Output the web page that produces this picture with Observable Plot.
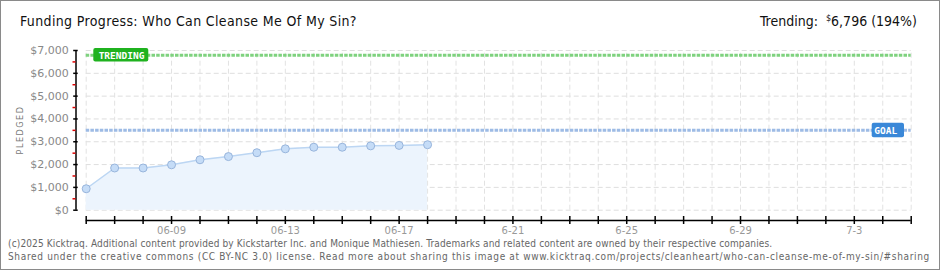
<!DOCTYPE html>
<html>
<head>
<meta charset="utf-8">
<script src="https://cdn.jsdelivr.net/npm/d3@7"></script>
<script src="https://cdn.jsdelivr.net/npm/@observablehq/plot@0.6"></script>
<style>
  body { margin: 0; background: #fff; }
  #wrap { position: relative; width: 940px; height: 270px; overflow: hidden; background:#fff; }
  #border { position: absolute; left: 0; top: 0; width: 940px; height: 270px; box-sizing: border-box; border: 1px solid #8a8a8a; pointer-events: none; }
  #chart { position: absolute; left: 0; top: 0; }
  .t { position: absolute; white-space: nowrap; font-family: "DejaVu Sans Condensed", "DejaVu Sans", sans-serif; font-stretch: condensed; }
  #title { left: 20px; top: 13px; font-size: 14px; color: #111; letter-spacing: 0.36px; }
  #trend { right: 23px; top: 13px; font-size: 14px; color: #111; }
  #trend sup { font-size: 9px; vertical-align: 5px; }
  #ylab { left: 20px; top: 130px; font-size: 9px; color: #777; letter-spacing: 1.5px; transform: translate(-50%, -50%) rotate(-90deg); font-family: "DejaVu Sans", sans-serif; }
  #foot1 { left: 8px; top: 238px; font-size: 10px; color: #666; letter-spacing: 0.14px; }
  #foot2 { left: 8px; top: 251px; font-size: 10px; color: #666; letter-spacing: 0.66px; }
</style>
</head>
<body>
<div id="wrap">
  <div id="chart"></div>
  <div class="t" id="title">Funding Progress: Who Can Cleanse Me Of My Sin?</div>
  <div class="t" id="trend">Trending: &nbsp;<sup>$</sup>6,796 (194%)</div>
  <div class="t" id="ylab">PLEDGED</div>
  <div class="t" id="foot1">(c)2025 Kicktraq. Additional content provided by Kickstarter Inc. and Monique Mathiesen. Trademarks and related content are owned by their respective companies.</div>
  <div class="t" id="foot2">Shared under the creative commons (CC BY-NC 3.0) license. Read more about sharing this image at www.kicktraq.com/projects/cleanheart/who-can-cleanse-me-of-my-sin/#sharing</div>
  <div id="border"></div>
</div>
<script>
// ---- data ----
const dates = ["2025-06-06","2025-06-07","2025-06-08","2025-06-09","2025-06-10","2025-06-11","2025-06-12","2025-06-13","2025-06-14","2025-06-15","2025-06-16","2025-06-17","2025-06-18"];
const pledged = [940, 1850, 1850, 1990, 2210, 2350, 2520, 2690, 2760, 2760, 2820, 2840, 2870];
const goal = 3500;
const trending = 6796;
const axisStart = "2025-06-06";
const axisEnd = "2025-07-05";
const tickDates = ["2025-06-09","2025-06-13","2025-06-17","2025-06-21","2025-06-25","2025-06-29","2025-07-03"];
const tickLabels = ["06-09","06-13","06-17","6-21","6-25","6-29","7-3"];
const yTicks = [0, 1000, 2000, 3000, 4000, 5000, 6000, 7000];
const yMinorTicks = [500, 1500, 2500, 3500, 4500, 5500, 6500];
const yTickLabels = ["$0","$1,000","$2,000","$3,000","$4,000","$5,000","$6,000","$7,000"];

// ---- build ----
const parse = d3.utcParse("%Y-%m-%d");
const data = dates.map((d, i) => ({date: parse(d), pledged: pledged[i]}));
const start = parse(axisStart), end = parse(axisEnd);
const days = d3.utcDay.range(start, d3.utcDay.offset(end, 1));
const tickD = tickDates.map(parse);
const labelOf = new Map(tickD.map((d, i) => [+d, tickLabels[i]]));
const yLabelOf = new Map(yTicks.map((v, i) => [v, yTickLabels[i]]));
const yMax = yTicks[yTicks.length - 1];
const gridRows = yTicks.map(v => ({y: v}));
const refLines = [{y: trending, c: "#7fd27f"}, {y: goal, c: "#9dbbe5"}];

const chart = Plot.plot({
  width: 940,
  height: 270,
  marginLeft: 75.5,
  marginRight: 29.3,
  marginTop: 50,
  marginBottom: 50,
  insetLeft: 10.2,
  insetBottom: 10.3,
  style: {fontFamily: "'DejaVu Sans', sans-serif", background: "transparent", overflow: "visible"},
  x: {type: "utc", domain: [start, end]},
  y: {domain: [0, yMax]},
  marks: [
    // grid
    Plot.ruleY(gridRows, {y: "y", x1: () => start, x2: () => end, stroke: "#dedede", strokeDasharray: "5,3"}),
    Plot.ruleX(days, {x: d => d, y1: () => 0, y2: () => yMax, stroke: "#e2e2e2", strokeDasharray: "5,3"}),
    // area + line
    Plot.areaY(data, {x: "date", y: "pledged", fill: "#ecf4fd"}),
    Plot.lineY(data, {x: "date", y: "pledged", stroke: "#bcd6f3", strokeWidth: 1.5}),
    // reference lines
    Plot.ruleY(refLines, {y: "y", x1: () => start, x2: () => end, stroke: "c", strokeWidth: 3, strokeDasharray: "3.5,1.2"}),
    // dots
    Plot.dot(data, {x: "date", y: "pledged", r: 4, fill: "#c5dcf7", stroke: "#98b5dc", strokeWidth: 1}),
    // labels
    Plot.rect([{y: trending}], {x1: () => start, x2: () => start, y1: "y", y2: "y", insetLeft: 7.6, insetRight: -62.6, insetTop: -6.6, insetBottom: -6.9, fill: "#1fb21f", rx: 2}),
    Plot.text([{y: trending}], {x: () => start, y: "y", text: () => "TRENDING", dx: 35.3, dy: 0.5, fill: "white", fontSize: 9.5, fontWeight: "bold", fontFamily: "'DejaVu Sans Mono', monospace"}),
    Plot.rect([{y: goal}], {x1: () => end, x2: () => end, y1: "y", y2: "y", insetLeft: -39, insetRight: 6.7, insetTop: -7, insetBottom: -7.4, fill: "#3a88d8", rx: 2}),
    Plot.text([{y: goal}], {x: () => end, y: "y", text: () => "GOAL", dx: -25.5, dy: 0.5, fill: "white", fontSize: 9.5, fontWeight: "bold", fontFamily: "'DejaVu Sans Mono', monospace"}),
    // y axis
    Plot.ruleX([{x: start}], {x: "x", y1: () => 0, y2: () => yMax, dx: -10.2, stroke: "#000", strokeWidth: 1.5}),
    Plot.axisY({ticks: yMinorTicks, tickSize: 3, stroke: "#e00000", fill: "none", label: null, strokeWidth: 1.5}),
    Plot.axisY({ticks: yTicks, tickSize: 4.5, dx: 2.2, stroke: "#000", strokeWidth: 1.5, fill: "#888", tickPadding: 5, fontSize: 11, tickFormat: v => yLabelOf.get(v), label: null}),
    // x axis
    Plot.ruleY([{y: 0}], {y: "y", x1: () => start, x2: () => end, dy: 10.3, stroke: "#000", strokeWidth: 1.5}),
    Plot.axisX({ticks: days, tickSize: 8, dy: -4, stroke: "#000", strokeWidth: 1.5, fill: "none", label: null}),
    Plot.axisX({ticks: tickD, tickSize: 0, tickPadding: 6, fill: "#999", fontSize: 10, tickFormat: d => labelOf.get(+d), label: null})
  ]
});
document.getElementById("chart").appendChild(chart);
</script>
</body>
</html>
